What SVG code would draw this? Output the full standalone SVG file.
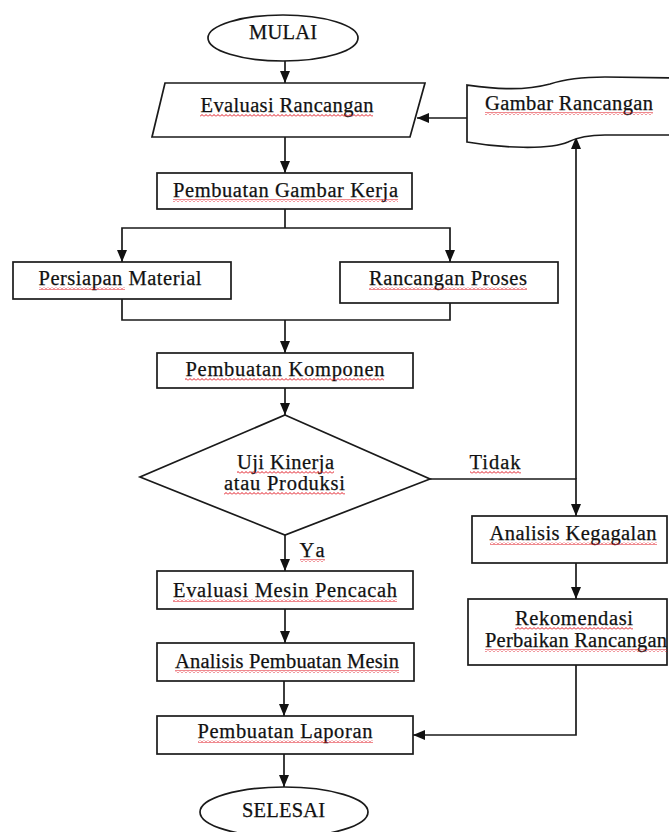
<svg xmlns="http://www.w3.org/2000/svg" width="669" height="832" viewBox="0 0 669 832">
<defs>
<style>
.s{fill:#fff;stroke:#1a1a1a;stroke-width:1.7}
.c{fill:none;stroke:#1a1a1a;stroke-width:1.7}
.t{font-family:"Liberation Serif","Times New Roman",serif;font-size:20.5px;fill:#111;stroke:#111;stroke-width:0.25;text-anchor:middle}
.w{fill:url(#sq)}
</style>
<pattern id="sq" width="4" height="3" patternUnits="userSpaceOnUse">
<polyline points="0,2.5 2,0.5 4,2.5" fill="none" stroke="#e0141e" stroke-width="1"/>
</pattern>
<marker id="ah" markerUnits="userSpaceOnUse" markerWidth="13" markerHeight="11" refX="12" refY="5.5" orient="auto">
<path d="M0,0.5 L12,5.5 L0,10.5 z" fill="#111"/>
</marker>
</defs>
<rect width="669" height="832" fill="#fff"/>

<g id="connectors">
<path class="c" d="M285,61 V83" marker-end="url(#ah)"/>
<path class="c" d="M285,137 V173" marker-end="url(#ah)"/>
<path class="c" d="M285,209 V228"/>
<path class="c" d="M285,228 H122 V262" marker-end="url(#ah)"/>
<path class="c" d="M285,228 H450 V262" marker-end="url(#ah)"/>
<path class="c" d="M122,299 V320 H450 V303"/>
<path class="c" d="M285,320 V353" marker-end="url(#ah)"/>
<path class="c" d="M285,388 V415" marker-end="url(#ah)"/>
<path class="c" d="M285,535 V571" marker-end="url(#ah)"/>
<path class="c" d="M430,479 H576 V516" marker-end="url(#ah)"/>
<path class="c" d="M576,479 V137" marker-end="url(#ah)"/>
<path class="c" d="M467,118 H417" marker-end="url(#ah)"/>
<path class="c" d="M576,563 V599" marker-end="url(#ah)"/>
<path class="c" d="M576,665 V735 H413" marker-end="url(#ah)"/>
<path class="c" d="M285,609 V643" marker-end="url(#ah)"/>
<path class="c" d="M284,681 V716" marker-end="url(#ah)"/>
<path class="c" d="M284,754 V787" marker-end="url(#ah)"/>
<text class="t" x="495" y="469" textLength="51">Tidak</text>
<rect class="w" x="470" y="471" width="51" height="3"/>
<text class="t" x="312" y="557" textLength="25">Ya</text>
<rect class="w" x="300" y="559" width="25" height="3"/>
</g>

<g id="mulai">
<ellipse class="s" cx="283" cy="38" rx="75" ry="23"/>
<text class="t" x="283" y="39" textLength="68">MULAI</text>
</g>

<g id="evaluasi-rancangan">
<polygon class="s" points="165,83 425,83 410,137 152,137"/>
<text class="t" x="287" y="112" textLength="173">Evaluasi Rancangan</text>
<rect class="w" x="200" y="114" width="173" height="3"/>
</g>

<g id="gambar-rancangan">
<path class="s" d="M467,85 C490,88 520,92 550,84 C565,79 580,77 605,77 L680,78 L680,135 L605,135 C588,135 578,137 568,142 C550,150 500,148 467,142 Z"/>
<text class="t" x="569" y="110" textLength="168">Gambar Rancangan</text>
<rect class="w" x="485" y="112" width="168" height="3"/>
</g>

<g id="pembuatan-gambar-kerja">
<rect class="s" x="157" y="173" width="255" height="36"/>
<text class="t" x="285.5" y="197" textLength="225">Pembuatan Gambar Kerja</text>
<rect class="w" x="173" y="199" width="225" height="3"/>
</g>

<g id="persiapan-material">
<rect class="s" x="13" y="262" width="218" height="37"/>
<text class="t" x="120" y="285" textLength="163">Persiapan Material</text>
<rect class="w" x="39" y="287" width="86" height="3"/>
</g>

<g id="rancangan-proses">
<rect class="s" x="340" y="262" width="218" height="41"/>
<text class="t" x="448" y="285" textLength="158">Rancangan Proses</text>
<rect class="w" x="369" y="287" width="158" height="3"/>
</g>

<g id="pembuatan-komponen">
<rect class="s" x="157" y="353" width="256" height="35"/>
<text class="t" x="285" y="376" textLength="199">Pembuatan Komponen</text>
<rect class="w" x="185" y="378" width="199" height="3"/>
</g>

<g id="uji-kinerja">
<polygon class="s" points="285,415 430,479 285,535 140,477"/>
<text class="t" x="285.5" y="469" textLength="97">Uji Kinerja</text>
<rect class="w" x="237" y="471" width="97" height="3"/>
<text class="t" x="284.5" y="490" textLength="121">atau Produksi</text>
<rect class="w" x="224" y="492" width="121" height="3"/>
</g>

<g id="analisis-kegagalan">
<rect class="s" x="472" y="516" width="195" height="47"/>
<text class="t" x="573" y="540" textLength="167">Analisis Kegagalan</text>
<rect class="w" x="490" y="542" width="167" height="3"/>
</g>

<g id="rekomendasi">
<rect class="s" x="468" y="599" width="199" height="66"/>
<text class="t" x="574" y="625" textLength="118">Rekomendasi</text>
<rect class="w" x="515" y="627" width="118" height="3"/>
<text class="t" x="576" y="647" textLength="182">Perbaikan Rancangan</text>
<rect class="w" x="485" y="649" width="182" height="3"/>
</g>

<g id="evaluasi-mesin">
<rect class="s" x="157" y="571" width="256" height="38"/>
<text class="t" x="285" y="597" textLength="224">Evaluasi Mesin Pencacah</text>
<rect class="w" x="173" y="599" width="224" height="3"/>
</g>

<g id="analisis-pembuatan">
<rect class="s" x="157" y="643" width="257" height="38"/>
<text class="t" x="287" y="668" textLength="224">Analisis Pembuatan Mesin</text>
<rect class="w" x="175" y="670" width="224" height="3"/>
</g>

<g id="pembuatan-laporan">
<rect class="s" x="157" y="716" width="256" height="38"/>
<text class="t" x="285" y="738" textLength="175">Pembuatan Laporan</text>
<rect class="w" x="198" y="740" width="175" height="3"/>
</g>

<g id="selesai">
<ellipse class="s" cx="284" cy="812" rx="84" ry="25"/>
<text class="t" x="283.5" y="817" textLength="83">SELESAI</text>
</g>
</svg>
